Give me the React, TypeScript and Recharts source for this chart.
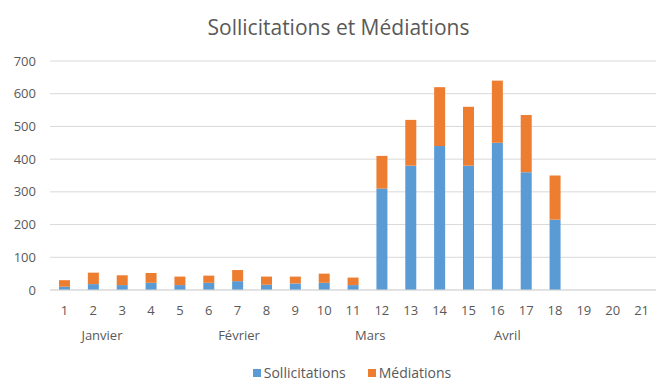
import React from 'react';
import { BarChart, Bar, XAxis, YAxis, CartesianGrid, Legend } from 'recharts';

const days = ['1','2','3','4','5','6','7','8','9','10','11','12','13','14','15','16','17','18','19','20','21'];
const sollicitations = [10, 18, 15, 22, 15, 22, 27, 16, 20, 22, 15, 310, 380, 440, 380, 450, 360, 215, 0, 0, 0];
const mediations = [20, 35, 30, 30, 26, 22, 34, 25, 21, 28, 23, 100, 140, 180, 180, 190, 175, 135, 0, 0, 0];
const monthLabels = ['Janvier', 'Février', 'Mars', 'Avril'];
const monthPositions = [2.3, 7.05, 11.6, 16.35];
const yTicks = [0, 100, 200, 300, 400, 500, 600, 700];
const seriesNames = ['Sollicitations', 'Médiations'];
const seriesColors = ['#5B9BD5', '#ED7D31'];

const data = days.map((d, i) => ({ day: d, idx: i + 1, Sollicitations: sollicitations[i], 'Médiations': mediations[i] }));

const FONT = '"Open Sans", sans-serif';
const TEXT = '#595959';

const LegendContent = () => (
  <div style={{ display: 'flex', justifyContent: 'center', gap: 22, fontSize: 14, fontFamily: FONT, color: TEXT, paddingLeft: 48 }}>
    {seriesNames.map((n, i) => (
      <span key={n} style={{ display: 'inline-flex', alignItems: 'center' }}>
        <span style={{ display: 'inline-block', width: 8, height: 8, background: seriesColors[i], marginRight: 3 }} />
        {n}
      </span>
    ))}
  </div>
);

export default function App() {
  return (
    <div style={{ position: 'absolute', left: 0, top: 0, width: 670, height: 388, background: '#fff', fontFamily: FONT }}>
      <div style={{ position: 'absolute', top: 13, left: 0, width: 677, textAlign: 'center', fontSize: 21, color: TEXT }}>
        Sollicitations et Médiations
      </div>
      <BarChart width={670} height={388} data={data} margin={{ top: 61, right: 14, left: 0, bottom: 31 }}>
        <CartesianGrid vertical={false} stroke="#d9d9d9" />
        <YAxis
          domain={[0, 700]}
          ticks={yTicks}
          width={50}
          axisLine={false}
          tickLine={false}
          tick={{ fill: TEXT, fontSize: 13, fontFamily: FONT }}
          tickMargin={8}
        />
        <XAxis
          xAxisId="day"
          dataKey="day"
          height={22}
          axisLine={{ stroke: '#d9d9d9' }}
          tickLine={false}
          tick={{ fill: TEXT, fontSize: 13, fontFamily: FONT }}
          tickMargin={10}
          interval={0}
        />
        <XAxis
          xAxisId="month"
          dataKey="idx"
          type="number"
          domain={[0.5, 21.5]}
          allowDataOverflow
          ticks={monthPositions}
          tickFormatter={(v: number) => monthLabels[monthPositions.indexOf(v)]}
          height={26}
          axisLine={false}
          tickLine={false}
          tick={{ fill: TEXT, fontSize: 13, fontFamily: FONT }}
          tickMargin={13}
          interval={0}
        />
        <Legend
          verticalAlign="bottom"
          align="center"
          content={<LegendContent />}
          wrapperStyle={{ bottom: 6 }}
        />
        <Bar xAxisId="day" dataKey="Sollicitations" stackId="a" fill={seriesColors[0]} barSize={11} isAnimationActive={false} />
        <Bar xAxisId="day" dataKey="Médiations" stackId="a" fill={seriesColors[1]} barSize={11} isAnimationActive={false} />
      </BarChart>
    </div>
  );
}
